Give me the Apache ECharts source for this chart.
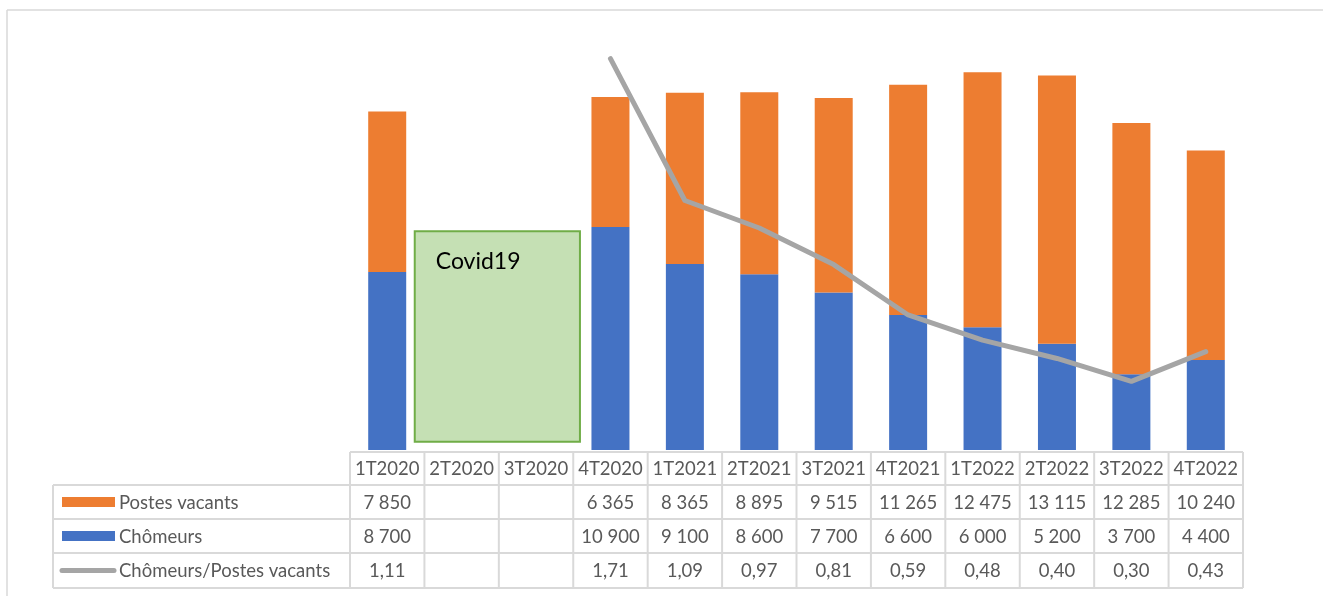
<!DOCTYPE html>
<html>
<head>
<meta charset="utf-8">
<script src="https://cdn.jsdelivr.net/npm/echarts@6/dist/echarts.min.js"></script>
<style>
  html, body { margin: 0; padding: 0; background: #fff; }
  #chart { width: 1323px; height: 596px; }
</style>
</head>
<body>
<div id="chart"></div>
<script>
// Data
const quarters = ["1T2020", "2T2020", "3T2020", "4T2020", "1T2021", "2T2021", "3T2021", "4T2021", "1T2022", "2T2022", "3T2022", "4T2022"];
const postesVacants = [7850, null, null, 6365, 8365, 8895, 9515, 11265, 12475, 13115, 12285, 10240];
const chomeurs = [8700, null, null, 10900, 9100, 8600, 7700, 6600, 6000, 5200, 3700, 4400];
const ratio = [1.11, null, null, 1.71, 1.09, 0.97, 0.81, 0.59, 0.48, 0.40, 0.30, 0.43];
const rowNames = ["Postes vacants", "Chômeurs", "Chômeurs/Postes vacants"];

const ORANGE = "#ed7d31";
const BLUE = "#4472c4";
const GREY = "#a5a5a5";
const BORDER = "#d9d9d9";
const TXT = "#595959";
const FONT = "Lato";

function fmtInt(v) {
    if (v == null) return "";
    return String(v).replace(/\B(?=(\d{3})+(?!\d))/g, " ");
}
function fmtRatio(v) {
    if (v == null) return "";
    return v.toFixed(2).replace(".", ",");
}

const chart = echarts.init(document.getElementById("chart"));

chart.setOption({
    animation: false,
    grid: { left: 350, right: 80, top: 41, bottom: 146 },
    xAxis: {
        type: "category",
        data: quarters,
        show: false,
    },
    yAxis: [
        { type: "value", min: 0, max: 20000, show: false, splitLine: { show: false } },
        { type: "value", min: 0, max: 1.787, show: false, splitLine: { show: false } },
    ],
    series: [
        {
            name: "Chômeurs",
            type: "bar",
            stack: "total",
            barWidth: 38,
            data: chomeurs,
            itemStyle: { color: BLUE },
        },
        {
            name: "Postes vacants",
            type: "bar",
            stack: "total",
            barWidth: 38,
            data: postesVacants,
            itemStyle: { color: ORANGE },
        },
        {
            name: "Chômeurs/Postes vacants",
            type: "line",
            yAxisIndex: 1,
            data: ratio,
            showSymbol: false,
            connectNulls: false,
            lineStyle: { color: GREY, width: 5, cap: "round", join: "round" },
            itemStyle: { color: GREY },
        },
    ],
});

// Table + annotation built from the axis scale
const centers = quarters.map((q) => chart.convertToPixel({ xAxisIndex: 0 }, q));
const band = centers[1] - centers[0];
const tLeft = centers[0] - band / 2;
const tRight = centers[centers.length - 1] + band / 2;
const outerLeft = 53;
const rowY = [452, 485, 519, 553, 588];
const g = [];

// outer frame
g.push({ type: "line", shape: { x1: 7, y1: 10, x2: 1323, y2: 10 }, style: { stroke: BORDER, lineWidth: 1.5 } });
g.push({ type: "line", shape: { x1: 7, y1: 10, x2: 7, y2: 596 }, style: { stroke: BORDER, lineWidth: 1.5 } });

// horizontal lines
g.push({ type: "line", shape: { x1: tLeft, y1: rowY[0], x2: tRight, y2: rowY[0] }, style: { stroke: BORDER, lineWidth: 2 } });
for (let i = 1; i < rowY.length; i++) {
    g.push({ type: "line", shape: { x1: outerLeft, y1: rowY[i], x2: tRight, y2: rowY[i] }, style: { stroke: BORDER, lineWidth: 2 } });
}
// vertical lines
g.push({ type: "line", shape: { x1: outerLeft, y1: rowY[1], x2: outerLeft, y2: rowY[4] }, style: { stroke: BORDER, lineWidth: 2 } });
for (let i = 0; i <= quarters.length; i++) {
    const x = tLeft + i * band;
    g.push({ type: "line", shape: { x1: x, y1: rowY[0], x2: x, y2: rowY[4] }, style: { stroke: BORDER, lineWidth: 2 } });
}

// header labels
quarters.forEach((q, i) => {
    g.push({
        type: "text",
        x: centers[i],
        y: (rowY[0] + rowY[1]) / 2 + 1,
        style: { text: q, font: "18.5px " + FONT, fill: TXT, align: "center", verticalAlign: "middle" },
    });
});

// rows
const rowsData = [postesVacants.map(fmtInt), chomeurs.map(fmtInt), ratio.map(fmtRatio)];
rowsData.forEach((vals, r) => {
    const cy = (rowY[r + 1] + rowY[r + 2]) / 2 + 1;
    vals.forEach((t, i) => {
        g.push({
            type: "text",
            x: centers[i],
            y: cy,
            style: { text: t, font: "18.5px " + FONT, fill: TXT, align: "center", verticalAlign: "middle" },
        });
    });
    g.push({
        type: "text",
        x: 119,
        y: cy,
        style: { text: rowNames[r], font: "18.5px " + FONT, fill: TXT, align: "left", verticalAlign: "middle" },
    });
});

// legend keys
g.push({ type: "rect", shape: { x: 62, y: (rowY[1] + rowY[2]) / 2 - 5, width: 53, height: 10 }, style: { fill: ORANGE } });
g.push({ type: "rect", shape: { x: 62, y: (rowY[2] + rowY[3]) / 2 - 5, width: 53, height: 10 }, style: { fill: BLUE } });
g.push({
    type: "line",
    shape: { x1: 62, y1: (rowY[3] + rowY[4]) / 2, x2: 114, y2: (rowY[3] + rowY[4]) / 2 },
    style: { stroke: GREY, lineWidth: 5, lineCap: "round" },
});

// Covid19 box across the missing quarters
const boxTop = chart.convertToPixel({ yAxisIndex: 0 }, 10700);
const boxBottom = chart.convertToPixel({ yAxisIndex: 0 }, 400);
const boxLeft = centers[1] - band * 0.63;
const boxRight = centers[2] + band * 0.59;
g.push({
    type: "rect",
    shape: { x: boxLeft, y: boxTop, width: boxRight - boxLeft, height: boxBottom - boxTop },
    style: { fill: "#c5e0b4", stroke: "#70ad47", lineWidth: 2 },
});
g.push({
    type: "text",
    x: boxLeft + 21,
    y: boxTop + 30,
    style: { text: "Covid19", font: "23px " + FONT, fill: "#000", align: "left", verticalAlign: "middle" },
});

chart.setOption({ graphic: g });
</script>
</body>
</html>
